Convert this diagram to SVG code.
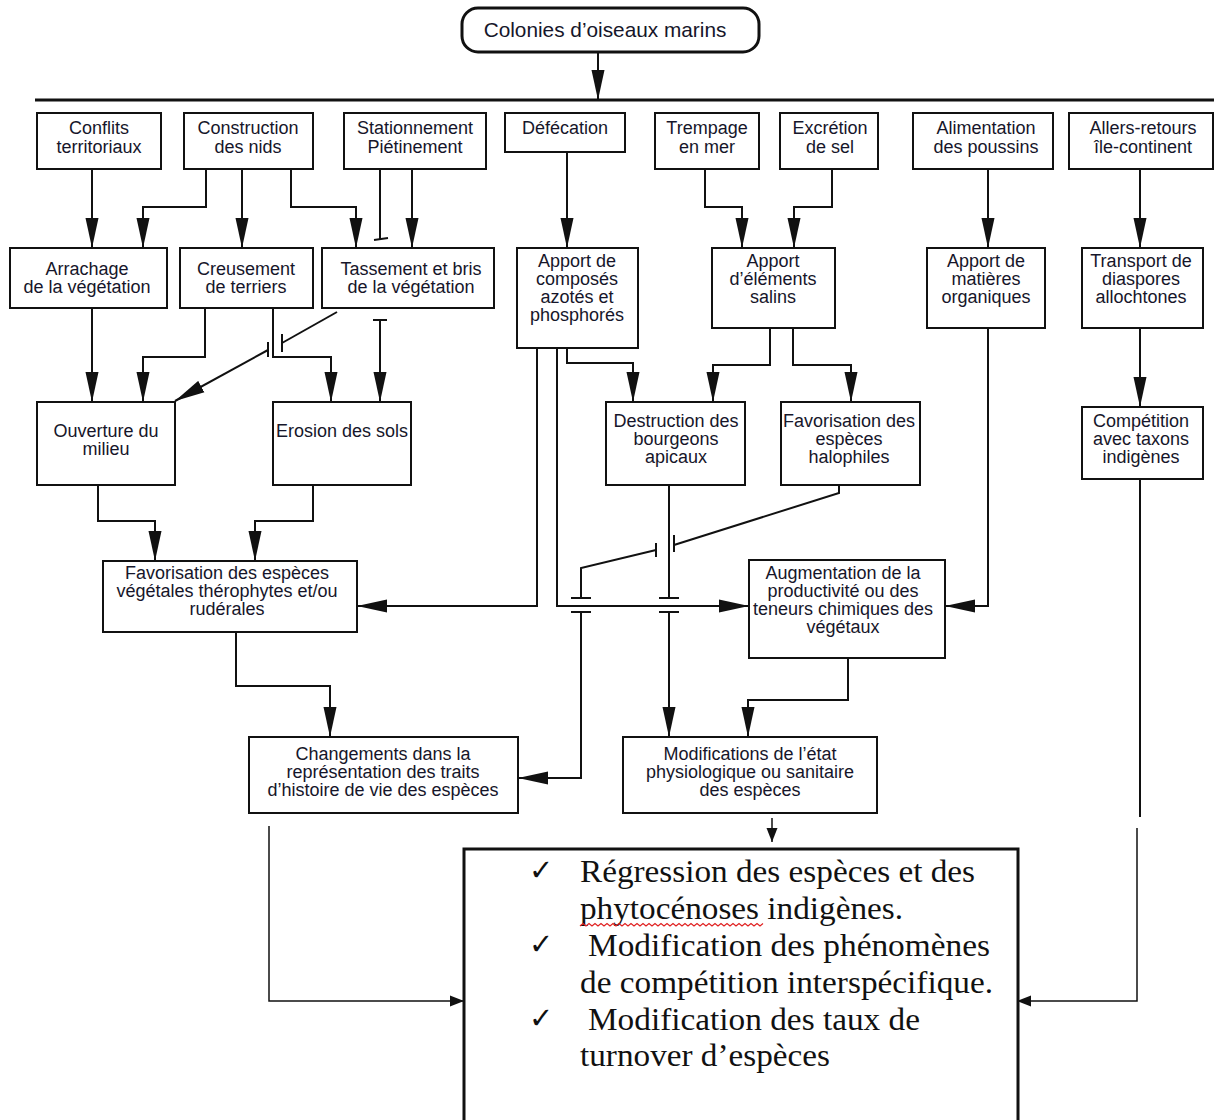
<svg xmlns="http://www.w3.org/2000/svg" width="1214" height="1120" viewBox="0 0 1214 1120">
<defs>
<style>
.box{fill:#fff;stroke:#111;stroke-width:2}
.t{font-family:"Liberation Sans",Arial,sans-serif;font-size:18px;fill:#16162a;text-anchor:middle}
.c{fill:none;stroke:#111;stroke-width:2}
.thin{fill:none;stroke:#111;stroke-width:1.5}
.bar{fill:none;stroke:#111;stroke-width:2}
.s{font-family:"Liberation Serif","Times New Roman",serif;font-size:31px;fill:#111}
.ck{font-family:"DejaVu Sans",sans-serif;font-size:29px;fill:#111}
</style>
<marker id="a" viewBox="0 -7 30 14" markerWidth="30" markerHeight="14" refX="30" refY="0" markerUnits="userSpaceOnUse" orient="auto">
<path d="M0,-6.5 L30,0 L0,6.5 Z" fill="#111"/>
</marker>
<marker id="s" viewBox="0 -6 14 12" markerWidth="14" markerHeight="12" refX="14" refY="0" markerUnits="userSpaceOnUse" orient="auto">
<path d="M0,-5.5 L14,0 L0,5.5 Z" fill="#111"/>
</marker>
</defs>

<g id="connectors">
<path class="c" d="M598,52 V100" marker-end="url(#a)"/>
<path d="M35,100 H1214" stroke="#111" stroke-width="3"/>
<path class="c" d="M92,170 V248" marker-end="url(#a)"/>
<path class="c" d="M206,170 V207 H143 V248" marker-end="url(#a)"/>
<path class="c" d="M242,170 V248" marker-end="url(#a)"/>
<path class="c" d="M291,170 V207 H356 V248" marker-end="url(#a)"/>
<path class="c" d="M380,170 V239"/>
<path class="bar" d="M374,240 L388,238"/>
<path class="c" d="M412,170 V248" marker-end="url(#a)"/>
<path class="c" d="M567,152 V248" marker-end="url(#a)"/>
<path class="c" d="M705,170 V207 H742 V248" marker-end="url(#a)"/>
<path class="c" d="M832,170 V207 H794 V248" marker-end="url(#a)"/>
<path class="c" d="M988,170 V248" marker-end="url(#a)"/>
<path class="c" d="M1140,170 V248" marker-end="url(#a)"/>
<path class="c" d="M92,308 V402" marker-end="url(#a)"/>
<path class="c" d="M205,308 V357 H143 V402" marker-end="url(#a)"/>
<path class="c" d="M273,308 V357 H331 V402" marker-end="url(#a)"/>
<path class="c" d="M337,312 L282,343"/>
<path class="bar" d="M282,334 V352"/>
<path class="bar" d="M268,342 V357"/>
<path class="c" d="M268,350 L175,401" marker-end="url(#a)"/>
<path class="bar" d="M373,320 H387"/>
<path class="c" d="M380,320 V402" marker-end="url(#a)"/>
<path class="c" d="M98,485 V521 H155 V561" marker-end="url(#a)"/>
<path class="c" d="M313,485 V521 H255 V561" marker-end="url(#a)"/>
<path class="c" d="M537,348 V606 H357" marker-end="url(#a)"/>
<path class="c" d="M557,348 V606 H749" marker-end="url(#a)"/>
<path class="c" d="M567,348 V363 H633 V402" marker-end="url(#a)"/>
<path class="c" d="M770,328 V365 H713 V402" marker-end="url(#a)"/>
<path class="c" d="M793,328 V365 H851 V402" marker-end="url(#a)"/>
<path class="c" d="M988,328 V606 H945" marker-end="url(#a)"/>
<path class="c" d="M1140,328 V407" marker-end="url(#a)"/>
<path class="c" d="M669,485 V598"/>
<path class="bar" d="M659,598 H679"/>
<path class="bar" d="M659,612 H679"/>
<path class="c" d="M669,612 V737" marker-end="url(#a)"/>
<path class="c" d="M839,485 V493 L674,545"/>
<path class="bar" d="M674,535 V552"/>
<path class="bar" d="M656,543 V557"/>
<path class="c" d="M656,550 L581,568 V598"/>
<path class="bar" d="M571,598 H591"/>
<path class="bar" d="M571,612 H591"/>
<path class="c" d="M581,612 V778 H518" marker-end="url(#a)"/>
<path class="c" d="M848,658 V700 H748 V737" marker-end="url(#a)"/>
<path class="c" d="M236,632 V686 H330 V737" marker-end="url(#a)"/>
<path class="thin" d="M772,818 V842" marker-end="url(#s)"/>
<path class="thin" d="M269,826 V1001 H464" marker-end="url(#s)"/>
<path class="c" d="M1140,479 V817"/>
<path class="thin" d="M1137,828 V1001 H1017" marker-end="url(#s)"/>
</g>

<g id="n0"><rect x="462" y="8" width="297" height="44" rx="16" fill="#fff" stroke="#111" stroke-width="3"/><text class="t" x="605" y="37" style="font-size:20.8px">Colonies d’oiseaux marins</text></g>

<g id="n1"><rect class="box" x="37" y="113" width="124" height="56"/><text class="t" x="99" y="134">Conflits</text><text class="t" x="99" y="153">territoriaux</text></g>
<g id="n2"><rect class="box" x="184" y="113" width="129" height="56"/><text class="t" x="248" y="134">Construction</text><text class="t" x="248" y="153">des nids</text></g>
<g id="n3"><rect class="box" x="344" y="113" width="142" height="56"/><text class="t" x="415" y="134">Stationnement</text><text class="t" x="415" y="153">Piétinement</text></g>
<g id="n4"><rect class="box" x="505" y="113" width="120" height="39"/><text class="t" x="565" y="134">Défécation</text></g>
<g id="n5"><rect class="box" x="655" y="113" width="104" height="56"/><text class="t" x="707" y="134">Trempage</text><text class="t" x="707" y="153">en mer</text></g>
<g id="n6"><rect class="box" x="780" y="113" width="98" height="56"/><text class="t" x="830" y="134">Excrétion</text><text class="t" x="830" y="153">de sel</text></g>
<g id="n7"><rect class="box" x="913" y="113" width="140" height="56"/><text class="t" x="986" y="134">Alimentation</text><text class="t" x="986" y="153">des poussins</text></g>
<g id="n8"><rect class="box" x="1069" y="113" width="144" height="56"/><text class="t" x="1143" y="134">Allers-retours</text><text class="t" x="1143" y="153">île-continent</text></g>

<g id="n9"><rect class="box" x="10" y="248" width="157" height="60"/><text class="t" x="87" y="275">Arrachage</text><text class="t" x="87" y="293">de la végétation</text></g>
<g id="n10"><rect class="box" x="180" y="248" width="133" height="60"/><text class="t" x="246" y="275">Creusement</text><text class="t" x="246" y="293">de terriers</text></g>
<g id="n11"><rect class="box" x="322" y="248" width="172" height="60"/><text class="t" x="411" y="275">Tassement et bris</text><text class="t" x="411" y="293">de la végétation</text></g>
<g id="n12"><rect class="box" x="517" y="248" width="121" height="100"/><text class="t" x="577" y="267">Apport de</text><text class="t" x="577" y="285">composés</text><text class="t" x="577" y="303">azotés et</text><text class="t" x="577" y="321">phosphorés</text></g>
<g id="n13"><rect class="box" x="712" y="248" width="123" height="80"/><text class="t" x="773" y="267">Apport</text><text class="t" x="773" y="285">d’éléments</text><text class="t" x="773" y="303">salins</text></g>
<g id="n14"><rect class="box" x="927" y="248" width="118" height="80"/><text class="t" x="986" y="267">Apport de</text><text class="t" x="986" y="285">matières</text><text class="t" x="986" y="303">organiques</text></g>
<g id="n15"><rect class="box" x="1082" y="248" width="121" height="80"/><text class="t" x="1141" y="267">Transport de</text><text class="t" x="1141" y="285">diaspores</text><text class="t" x="1141" y="303">allochtones</text></g>

<g id="n16"><rect class="box" x="37" y="402" width="138" height="83"/><text class="t" x="106" y="437">Ouverture du</text><text class="t" x="106" y="455">milieu</text></g>
<g id="n17"><rect class="box" x="273" y="402" width="138" height="83"/><text class="t" x="342" y="437">Erosion des sols</text></g>
<g id="n18"><rect class="box" x="606" y="402" width="139" height="83"/><text class="t" x="676" y="427">Destruction des</text><text class="t" x="676" y="445">bourgeons</text><text class="t" x="676" y="463">apicaux</text></g>
<g id="n19"><rect class="box" x="781" y="402" width="139" height="83"/><text class="t" x="849" y="427">Favorisation des</text><text class="t" x="849" y="445">espèces</text><text class="t" x="849" y="463">halophiles</text></g>
<g id="n20"><rect class="box" x="1082" y="407" width="121" height="72"/><text class="t" x="1141" y="427">Compétition</text><text class="t" x="1141" y="445">avec taxons</text><text class="t" x="1141" y="463">indigènes</text></g>

<g id="n21"><rect class="box" x="103" y="561" width="254" height="71"/><text class="t" x="227" y="579">Favorisation des espèces</text><text class="t" x="227" y="597">végétales thérophytes et/ou</text><text class="t" x="227" y="615">rudérales</text></g>
<g id="n22"><rect class="box" x="749" y="560" width="196" height="98"/><text class="t" x="843" y="579">Augmentation de la</text><text class="t" x="843" y="597">productivité ou des</text><text class="t" x="843" y="615">teneurs chimiques des</text><text class="t" x="843" y="633">végétaux</text></g>

<g id="n23"><rect class="box" x="249" y="737" width="269" height="76"/><text class="t" x="383" y="760">Changements dans la</text><text class="t" x="383" y="778">représentation des traits</text><text class="t" x="383" y="796">d’histoire de vie des espèces</text></g>
<g id="n24"><rect class="box" x="623" y="737" width="254" height="76"/><text class="t" x="750" y="760">Modifications de l’état</text><text class="t" x="750" y="778">physiologique ou sanitaire</text><text class="t" x="750" y="796">des espèces</text></g>

<g id="n25">
<rect x="464" y="849" width="554" height="290" fill="#fff" stroke="#111" stroke-width="3"/>
<text class="ck" x="529" y="880">✓</text>
<text class="ck" x="529" y="954">✓</text>
<text class="ck" x="529" y="1028">✓</text>
<text class="s" x="580" y="882" textLength="395" lengthAdjust="spacingAndGlyphs">Régression des espèces et des</text>
<text class="s" x="580" y="919" textLength="323" lengthAdjust="spacingAndGlyphs">phytocénoses indigènes.</text>
<path d="M580,926 l3,-2.5 l3,2.5 l3,-2.5 l3,2.5 l3,-2.5 l3,2.5 l3,-2.5 l3,2.5 l3,-2.5 l3,2.5 l3,-2.5 l3,2.5 l3,-2.5 l3,2.5 l3,-2.5 l3,2.5 l3,-2.5 l3,2.5 l3,-2.5 l3,2.5 l3,-2.5 l3,2.5 l3,-2.5 l3,2.5 l3,-2.5 l3,2.5 l3,-2.5 l3,2.5 l3,-2.5 l3,2.5 l3,-2.5 l3,2.5 l3,-2.5 l3,2.5 l3,-2.5 l3,2.5 l3,-2.5 l3,2.5 l3,-2.5 l3,2.5 l3,-2.5 l3,2.5 l3,-2.5 l3,2.5 l3,-2.5 l3,2.5 l3,-2.5 l3,2.5 l3,-2.5 l3,2.5 l3,-2.5 l3,2.5 l3,-2.5 l3,2.5 l3,-2.5 l3,2.5 l3,-2.5 l3,2.5 l3,-2.5 l3,2.5 l3,-2.5" fill="none" stroke="#e02020" stroke-width="1.2"/>
<text class="s" x="588" y="956" textLength="402" lengthAdjust="spacingAndGlyphs">Modification des phénomènes</text>
<text class="s" x="580" y="993" textLength="413" lengthAdjust="spacingAndGlyphs">de compétition interspécifique.</text>
<text class="s" x="588" y="1030" textLength="332" lengthAdjust="spacingAndGlyphs">Modification des taux de</text>
<text class="s" x="580" y="1066" textLength="250" lengthAdjust="spacingAndGlyphs">turnover d’espèces</text>
</g>
</svg>
